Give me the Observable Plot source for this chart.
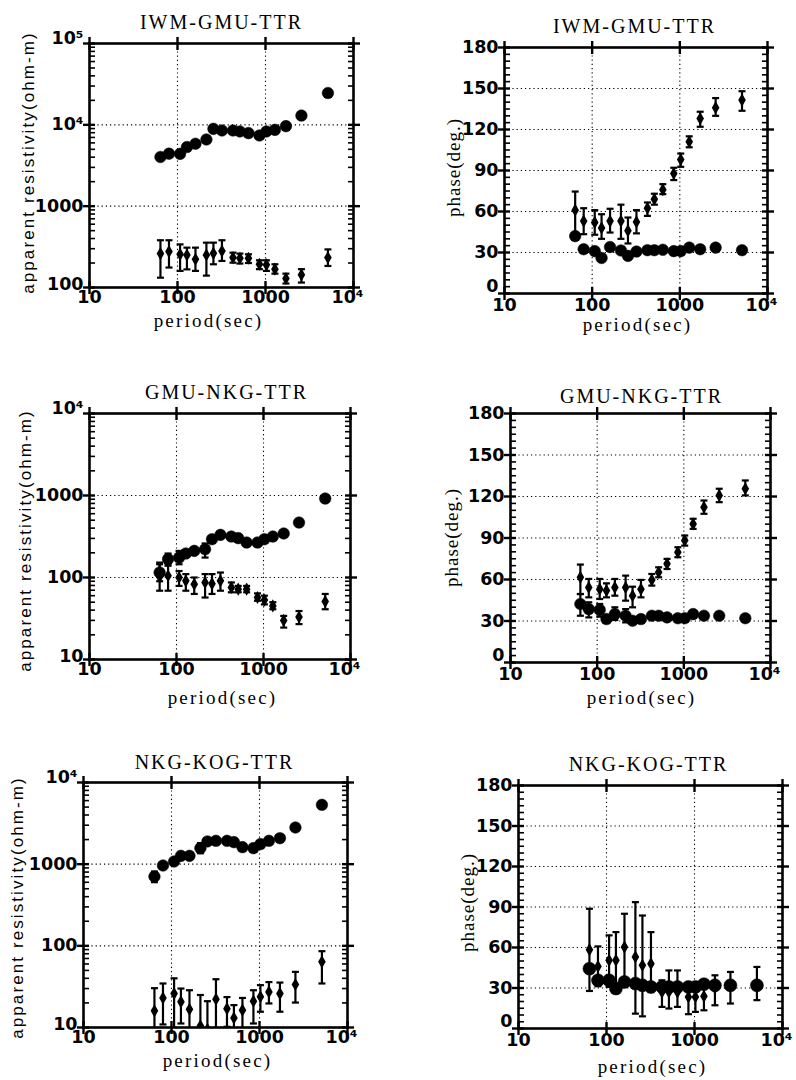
<!DOCTYPE html>
<html><head><meta charset="utf-8">
<script src="https://cdn.jsdelivr.net/npm/d3@7"></script>
<script src="https://cdn.jsdelivr.net/npm/@observablehq/plot@0.6"></script>
<style>
body{margin:0;background:#fff;}
#chart{position:relative;width:796px;height:1080px;overflow:hidden;background:#fff;}
#chart svg{position:absolute;}
</style></head><body><div id="chart"></div>
<script>
// periods (sec), shared by all panels
const period = [64, 80, 107, 128, 160, 213, 256, 320, 427, 512, 640, 853, 1024, 1280, 1707, 2560, 5120];

// Panel titles
const titles = ["IWM-GMU-TTR", "GMU-NKG-TTR", "NKG-KOG-TTR"];

// IWM-GMU-TTR apparent resistivity
const rhoA1 = [4020, 4420, 4400, 5330, 5850, 6600, 8930, 8520, 8520, 8280, 7910, 7400, 8280, 8680, 9630, 13000, 24600];
const rhoB1 = [261, 277, 256, 251, 222, 251, 263, 281, 233, 229, 229, 193, 190, 168, 129, 143, 233];
const rhoB1Lo = [132, 176, 160, 167, 160, 140, 193, 212, 202, 197, 200, 168, 160, 148, 112, 115, 184];
const rhoB1Hi = [381, 381, 339, 309, 309, 356, 356, 381, 268, 261, 256, 216, 216, 193, 148, 168, 294];
// IWM-GMU-TTR phase
const phA1 = [42, 32.4, 31, 26, 34, 31.5, 27.5, 30.7, 31.7, 31.7, 32, 31, 31, 33.6, 32.4, 33.6, 31.7];
const phB1 = [61, 53, 52, 48, 53, 53, 46, 52.4, 62.4, 69, 76, 87.8, 98, 111, 128, 136, 141.5];
const phB1Lo = [43.4, 43.4, 43, 40, 44.6, 40, 36.6, 44, 56.8, 65, 72.7, 83, 92.7, 107, 122, 130, 133.7];
const phB1Hi = [74.6, 62.4, 61, 58, 62, 65, 55.6, 61, 66.6, 73, 80, 92, 102.4, 115, 133, 143, 148];

// GMU-NKG-TTR apparent resistivity
const rhoA2 = [115, 168, 175, 196, 211, 221, 293, 331, 316, 302, 267, 267, 293, 316, 344, 468, 918];
const rhoA2Lo = [90, 145, 145, null, null, 175, null, null, null, null, null, null, null, null, null, null, null];
const rhoA2Hi = [145, 196, 211, null, null, 260, null, null, null, null, null, null, null, null, null, null, null];
const rhoB2 = [102, 105, 100, 91, 83, 87, 84, 91, 75.5, 72, 72, 57, 53, 45, 30, 33, 51];
const rhoB2Lo = [69, 69, 79, 69, 63, 57, 63, 69, 66, 66, 66, 52, 47, 41, 24.5, 27, 41];
const rhoB2Hi = [152, 139, 120, 110, 100, 110, 110, 115, 87, 79, 79, 64, 60, 50, 34, 39, 63];
// GMU-NKG-TTR phase
const phA2 = [42.3, 38.6, 38, 31.4, 35, 33.8, 30.2, 31.4, 33.8, 33.8, 32.6, 32, 32, 35, 33.8, 33.8, 32];
const phA2Lo = [33.8, 32.6, 33.1, null, 30.7, 29, null, null, null, null, null, null, null, null, null, null, null];
const phA2Hi = [49.5, 43.5, 42.3, null, 39.9, 38.6, null, null, null, null, null, null, null, null, null, null, null];
const phB2 = [61.6, 54.3, 53, 52, 54.3, 54.3, 48.3, 53, 59.7, 65.2, 71.3, 79.7, 88.2, 100.2, 112.3, 120.8, 125.6];
const phB2Lo = [49.5, 47.1, 45.9, 47.1, 48.3, 44.7, 39.9, 47.1, 55.6, 61.6, 67.6, 76.1, 84.5, 96.6, 107.5, 115.9, 120.8];
const phB2Hi = [70.8, 60.4, 60.4, 57.2, 60.4, 62.8, 54.8, 59.7, 64, 68.8, 74.9, 83.3, 91.8, 103.9, 117.1, 125.6, 131.6];

// NKG-KOG-TTR apparent resistivity
const rhoA3 = [706, 963, 1078, 1265, 1265, 1570, 1897, 1932, 1932, 1860, 1615, 1570, 1758, 1932, 2080, 2810, 5330];
const rhoA3Lo = [602, null, null, null, null, 1360, null, null, null, null, null, null, null, null, null, null, null];
const rhoA3Hi = [813, null, null, null, null, 1810, null, null, null, null, null, null, null, null, null, null, null];
const rhoB3 = [16, 23, 26, 20.6, 16.7, 10.5, 9.5, 22.2, 17, 13.1, 16.3, 21, 23.8, 27.3, 26, 33.6, 63.7];
const rhoB3Lo = [9, 10.9, 8, 11.2, 9, 8, 8, 9, 10.2, 9, 9, 11.2, 15.6, 19.7, 15.6, 20.2, 34.6];
const rhoB3Hi = [30.3, 34.6, 40, 30, 28.6, 25, 21, 39, 23.6, 18.8, 23, 28.6, 33, 36, 35.5, 48, 86];
// NKG-KOG-TTR phase
const phA3 = [44.3, 35.7, 35.7, 29.6, 34.5, 33.3, 32, 30.8, 30.8, 30.8, 30.8, 30.8, 30.8, 32.8, 32, 32, 32];
const phB3 = [58.4, 46, 50.5, 50.5, 60.3, 53, 46.8, 48, 27, 27, 27, 23.4, 23.4, 23.9, 30, 32, 33];
const phB3Lo = [27.8, 31.3, 30.8, 28.8, 30.8, 11, 9, 27, 16, 14.8, 16, 10.6, 12.3, 13.5, 17.2, 18.5, 21];
const phB3Hi = [88.7, 60.8, 69, 71.4, 85, 93.6, 83.7, 71.4, 35.7, 43, 43, 32, 32, 34, 39.4, 41.9, 45.6];

// axis ticks
const xMajor = [10, 100, 1000, 10000];
const xGrid = [100, 1000];
const phaseMajor = [0, 30, 60, 90, 120, 150, 180];
const phaseGrid = [30, 60, 90, 120, 150];
const phaseMinor = d3.range(0, 181, 5).filter(d => d % 30 !== 0);

const xLabel = "period(sec)";
const rhoLabel = "apparent resistivity(ohm-m)";
const phaseLabel = "phase(deg.)";

const sup = {4: "\u2074", 5: "\u2075"};
const fmtLog = d => d >= 10000 ? "10" + sup[Math.round(Math.log10(d))] : String(d);

const hbar = {draw(ctx, size) { const w = Math.sqrt(size / Math.PI); ctx.moveTo(-w, 0); ctx.lineTo(w, 0); }};

function panel(cfg) {
  const {sx, sy, W, H, frame: [fx0, fx1, fy0, fy1], phase, yDomain, title, A, ALo, AHi, B, BLo, BHi, t, rA} = cfg;
  const rowsA = period.map((p, i) => ({p, v: A[i], lo: ALo ? ALo[i] : null, hi: AHi ? AHi[i] : null}));
  const rowsAErr = rowsA.filter(d => d.lo != null);
  const rowsB = period.map((p, i) => ({p, v: B[i], lo: BLo[i], hi: BHi[i]}));
  let yMajor, yMinor, yGrid, fmtY;
  if (phase) {
    yMajor = phaseMajor; yMinor = phaseMinor; yGrid = phaseGrid; fmtY = d => String(d);
  } else {
    const e0 = Math.round(Math.log10(yDomain[0])), e1 = Math.round(Math.log10(yDomain[1]));
    yMajor = d3.range(e0, e1 + 1).map(e => 10 ** e);
    yGrid = yMajor.slice(1, -1);
    yMinor = d3.range(e0, e1).flatMap(e => d3.range(2, 10).map(k => k * 10 ** e));
    fmtY = fmtLog;
  }
  const dotted = {stroke: "black", strokeOpacity: 1, strokeWidth: 1.1, strokeDasharray: "1.2,3"};
  const fcx = (fx0 + fx1) / 2, fcy = (fy0 + fy1) / 2;
  const yLo = yMajor[0], yHi = yMajor[yMajor.length - 1];
  const yMid = yMajor.slice(1, -1);
  const xPad = phase ? 5 : 3;
  const marks = [
    Plot.gridX(xGrid, dotted),
    Plot.gridY(yGrid, dotted),
    Plot.frame({strokeWidth: 2.6}),
    Plot.axisY(yMinor, {anchor: "left", tickSize: -6, fill: "none", label: null, strokeWidth: 1.6}),
    Plot.axisY(yMinor, {anchor: "right", tickSize: -6, fill: "none", label: null, strokeWidth: 1.6}),
    ...["left", "right"].flatMap(a => [6, -6].map(s => Plot.axisY(yMajor, {anchor: a, tickSize: s, fill: "none", label: null, strokeWidth: 2.4}))),
    ...["top", "bottom"].flatMap(a => [7, -6].map(s => Plot.axisX(xMajor, {anchor: a, tickSize: s, fill: "none", label: null, strokeWidth: 2.4}))),
    // y tick labels (end labels nudged up, as in the original)
    Plot.axisY(yMid, {anchor: "left", tickSize: 0, tickPadding: 6, tickFormat: fmtY, label: null}),
    Plot.axisY([yLo], {anchor: "left", tickSize: 0, tickPadding: 6, tickFormat: fmtY, label: null, dy: phase ? -7 : -3}),
    Plot.axisY([yHi], {anchor: "left", tickSize: 0, tickPadding: 6, tickFormat: fmtY, label: null, dy: phase ? 0 : -5}),
    // x tick labels; 10^4 sits with its "10" left of the tick
    Plot.axisX([10, 100, 1000], {anchor: "bottom", tickSize: 0, tickPadding: xPad, tickFormat: fmtLog, label: null}),
    Plot.axisX([10000], {anchor: "bottom", tickSize: 0, tickPadding: xPad, tickFormat: fmtLog, label: null, dx: -6}),
    // circle series
    Plot.ruleX(rowsAErr, {x: "p", y1: "lo", y2: "hi", strokeWidth: 2.2, clip: true}),
    Plot.dot(rowsAErr, {x: "p", y: "lo", symbol: hbar, r: 3.5, stroke: "black", strokeWidth: 2.2, clip: true}),
    Plot.dot(rowsAErr, {x: "p", y: "hi", symbol: hbar, r: 3.5, stroke: "black", strokeWidth: 2.2, clip: true}),
    Plot.dot(rowsA, {x: "p", y: "v", r: rA || 5.8, fill: "black", stroke: "black", strokeWidth: 0.5, clip: true}),
    // diamond series with error bars
    Plot.ruleX(rowsB, {x: "p", y1: "lo", y2: "hi", strokeWidth: 2.2, clip: true}),
    Plot.dot(rowsB, {x: "p", y: "lo", symbol: hbar, r: 3.5, stroke: "black", strokeWidth: 2.2, clip: true}),
    Plot.dot(rowsB, {x: "p", y: "hi", symbol: hbar, r: 3.5, stroke: "black", strokeWidth: 2.2, clip: true}),
    Plot.dot(rowsB, {x: "p", y: "v", symbol: "diamond", r: 4, fill: "black", clip: true}),
    // texts
    Plot.text([title], {text: d => d, frameAnchor: "top", textAnchor: "middle", dx: t.title[0] - fcx, dy: t.title[1] - fy0, lineAnchor: "bottom",
      fontFamily: "Liberation Serif", fontSize: 20, fontWeight: "normal"}),
    Plot.text([xLabel], {text: d => d, frameAnchor: "bottom", textAnchor: "middle", dx: t.xl[0] - fcx, dy: t.xl[1] - fy1, lineAnchor: "bottom",
      fontFamily: "Liberation Serif", fontSize: 19, fontWeight: "normal"}),
    Plot.text([phase ? phaseLabel : rhoLabel], {text: d => d, frameAnchor: "left", textAnchor: "middle", rotate: -90, dx: t.yl[0] - fx0, dy: t.yl[1] - fcy, lineAnchor: "middle",
      fontFamily: phase ? "Liberation Serif" : "Liberation Sans", fontSize: phase ? 19 : 17, fontWeight: "normal"})
  ];
  const svg = Plot.plot({
    width: W, height: H,
    marginLeft: fx0 - sx, marginRight: sx + W - fx1, marginTop: fy0 - sy, marginBottom: sy + H - fy1,
    style: {fontFamily: "DejaVu Sans", fontSize: "17.5px", fontWeight: "bold", background: "transparent", color: "black", overflow: "visible"},
    x: {type: "log", domain: [10, 10000], axis: null},
    y: phase ? {type: "linear", domain: [0, 180], axis: null} : {type: "log", domain: yDomain, axis: null},
    marks
  });
  svg.style.left = sx + "px";
  svg.style.top = sy + "px";
  const spacing = {[title]: "2px", [xLabel]: "2.2px", [phaseLabel]: "1px", [rhoLabel]: "2.1px"};
  svg.querySelectorAll("text").forEach(e => {
    const s = spacing[e.textContent];
    if (s) e.style.letterSpacing = s;
  });
  document.getElementById("chart").appendChild(svg);
}

panel({sx: 0, sy: 0, W: 398, H: 345, frame: [89, 353, 43, 287], phase: false, yDomain: [100, 100000], title: titles[0],
  A: rhoA1, B: rhoB1, BLo: rhoB1Lo, BHi: rhoB1Hi, t: {title: [221, 28], yl: [28, 162], xl: [208, 326]}});
panel({sx: 398, sy: 0, W: 398, H: 345, frame: [504, 767, 47, 293], phase: true, title: titles[0],
  A: phA1, B: phB1, BLo: phB1Lo, BHi: phB1Hi, t: {title: [634, 32], yl: [453, 167], xl: [637, 330]}});
panel({sx: 0, sy: 350, W: 398, H: 362, frame: [89, 350, 413, 659], phase: false, yDomain: [10, 10000], title: titles[1],
  A: rhoA2, ALo: rhoA2Lo, AHi: rhoA2Hi, B: rhoB2, BLo: rhoB2Lo, BHi: rhoB2Hi, t: {title: [226, 398], yl: [25, 540], xl: [222, 703]}});
panel({sx: 398, sy: 350, W: 398, H: 362, frame: [510, 770, 413, 662], phase: true, title: titles[1],
  A: phA2, ALo: phA2Lo, AHi: phA2Hi, B: phB2, BLo: phB2Lo, BHi: phB2Hi, t: {title: [641, 402], yl: [451, 537], xl: [641, 703]}});
panel({sx: 0, sy: 715, W: 398, H: 365, frame: [83, 347, 782, 1027], phase: false, yDomain: [10, 10000], title: titles[2],
  A: rhoA3, ALo: rhoA3Lo, AHi: rhoA3Hi, B: rhoB3, BLo: rhoB3Lo, BHi: rhoB3Hi, t: {title: [214, 768], yl: [17, 907], xl: [217, 1066]}});
panel({sx: 398, sy: 715, W: 398, H: 365, frame: [518, 782, 785, 1028], phase: true, title: titles[2], rA: 6.5,
  A: phA3, B: phB3, BLo: phB3Lo, BHi: phB3Hi, t: {title: [648, 770], yl: [467, 902], xl: [652, 1072]}});
</script></body></html>
